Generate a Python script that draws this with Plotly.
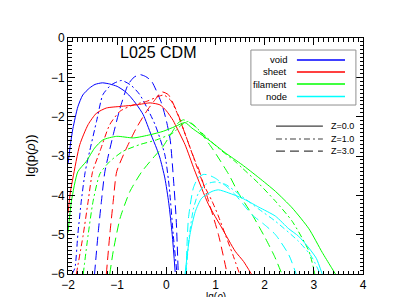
import plotly.graph_objects as go

# ---------------- data ----------------
void_z0_x = [-2.0, -1.95, -1.9, -1.8, -1.7, -1.56, -1.45, -1.3, -1.15, -1.0, -0.85, -0.74, -0.6, -0.47, -0.31, -0.2, -0.13, -0.03, 0.05, 0.12, 0.18]
void_z0_y = [-3.2, -2.7, -2.3, -1.75, -1.45, -1.27, -1.18, -1.14, -1.17, -1.23, -1.35, -1.48, -1.7, -1.95, -2.46, -2.8, -3.05, -3.56, -4.2, -5.0, -5.95]
void_z1_x = [-1.92, -1.86, -1.8, -1.73, -1.65, -1.56, -1.42, -1.29, -1.12, -0.91, -0.72, -0.54, -0.23, -0.03, 0.06, 0.14, 0.21]
void_z1_y = [-6.0, -5.85, -5.0, -4.15, -3.4, -2.88, -2.12, -1.44, -1.19, -1.08, -1.2, -1.44, -2.2, -2.97, -3.8, -5.0, -5.9]
void_z3_x = [-1.46, -1.39, -1.32, -1.25, -1.08, -0.94, -0.78, -0.66, -0.54, -0.42, -0.3, -0.1, 0.0, 0.08, 0.14, 0.2, 0.24]
void_z3_y = [-6.0, -5.0, -4.15, -3.4, -2.46, -1.78, -1.19, -1.0, -0.93, -0.98, -1.1, -1.65, -2.1, -2.6, -3.5, -4.6, -5.9]

sheet_z0_x = [-2.0, -1.95, -1.9, -1.76, -1.59, -1.42, -1.22, -0.94, -0.61, -0.33, -0.13, 0.0, 0.14, 0.18, 0.38, 0.57, 0.86, 1.13, 1.4, 1.57, 1.73]
sheet_z0_y = [-4.45, -3.9, -3.56, -2.71, -2.2, -1.91, -1.78, -1.74, -1.70, -1.65, -1.70, -1.85, -2.1, -2.2, -2.71, -3.35, -4.24, -4.83, -5.42, -5.68, -6.0]
sheet_z1_x = [-1.83, -1.69, -1.59, -1.5, -1.35, -1.15, -0.94, -0.67, -0.4, -0.15, -0.05, 0.1, 0.25, 0.4, 0.6, 0.75, 0.93, 1.05, 1.2, 1.35, 1.49]
sheet_z1_y = [-6.0, -5.0, -4.15, -3.4, -2.88, -2.2, -1.86, -1.70, -1.61, -1.48, -1.45, -1.6, -2.0, -2.5, -3.2, -3.7, -4.15, -4.5, -5.0, -5.5, -6.0]
sheet_z3_x = [-1.22, -1.15, -1.08, -1.01, -0.84, -0.61, -0.4, -0.23, -0.1, 0.04, 0.24, 0.41, 0.59, 0.65, 0.86, 1.06, 1.23]
sheet_z3_y = [-6.0, -5.0, -4.15, -3.4, -2.88, -2.29, -1.86, -1.57, -1.37, -1.44, -1.95, -2.54, -3.14, -3.3, -4.15, -5.0, -5.95]

fil_z0_x = [-2.0, -1.93, -1.8, -1.63, -1.46, -1.29, -1.01, -0.67, -0.33, -0.06, 0.18, 0.38, 0.52, 0.86, 1.2, 1.54, 1.88, 2.22, 2.56, 2.9, 3.17, 3.34, 3.44]
fil_z0_y = [-4.95, -4.15, -3.4, -3.14, -2.80, -2.59, -2.50, -2.54, -2.46, -2.37, -2.25, -2.15, -2.29, -2.59, -2.92, -3.22, -3.55, -3.9, -4.32, -4.85, -5.45, -5.8, -6.0]
fil_z1_x = [-1.69, -1.59, -1.49, -1.35, -1.15, -0.88, -0.54, -0.2, 0.14, 0.3, 0.45, 0.72, 1.06, 1.4, 1.54, 1.88, 2.22, 2.56, 2.9, 3.02]
fil_z1_y = [-6.0, -5.0, -4.15, -3.45, -3.14, -2.88, -2.71, -2.59, -2.41, -2.22, -2.12, -2.41, -2.80, -3.14, -3.3, -3.7, -4.15, -4.66, -5.42, -6.0]
fil_z3_x = [-1.15, -1.08, -0.94, -0.74, -0.5, -0.27, -0.08, 0.11, 0.24, 0.35, 0.59, 0.93, 1.27, 1.47, 1.75, 2.01, 2.2, 2.35]
fil_z3_y = [-6.0, -5.42, -4.58, -3.90, -3.4, -3.05, -2.78, -2.41, -2.16, -2.08, -2.25, -2.80, -3.47, -3.95, -4.5, -5.08, -5.55, -6.0]

node_z0_x = [0.38, 0.48, 0.59, 0.72, 0.93, 1.06, 1.27, 1.54, 1.88, 2.22, 2.49, 2.69, 2.9, 3.05, 3.17]
node_z0_y = [-6.0, -5.0, -4.41, -4.07, -3.90, -3.86, -3.94, -4.07, -4.3, -4.53, -4.85, -5.04, -5.34, -5.6, -6.0]
node_z1_x = [0.4, 0.47, 0.55, 0.65, 0.8, 0.99, 1.2, 1.54, 1.88, 2.22, 2.69, 2.95, 3.13]
node_z1_y = [-6.0, -5.0, -4.35, -3.95, -3.72, -3.66, -3.72, -4.03, -4.35, -4.66, -5.17, -5.55, -6.0]
node_z3_x = [0.4, 0.45, 0.55, 0.65, 0.75, 0.85, 0.99, 1.2, 1.4, 1.74, 2.0, 2.22, 2.49, 2.64]
node_z3_y = [-6.0, -4.58, -3.81, -3.55, -3.47, -3.48, -3.56, -3.75, -3.98, -4.49, -4.75, -5.0, -5.51, -6.0]

category_names = ["void", "sheet", "filament", "node"]
category_colors = ["#0000ff", "#ff0000", "#00ff00", "#00ffff"]
redshift_labels = ["Z=0.0", "Z=1.0", "Z=3.0"]
redshift_dashes = ["solid", "6px,3px,2px,3px", "9px,5px"]

series = {
    "void": [(void_z0_x, void_z0_y), (void_z1_x, void_z1_y), (void_z3_x, void_z3_y)],
    "sheet": [(sheet_z0_x, sheet_z0_y), (sheet_z1_x, sheet_z1_y), (sheet_z3_x, sheet_z3_y)],
    "filament": [(fil_z0_x, fil_z0_y), (fil_z1_x, fil_z1_y), (fil_z3_x, fil_z3_y)],
    "node": [(node_z0_x, node_z0_y), (node_z1_x, node_z1_y), (node_z3_x, node_z3_y)],
}

x_ticks = [-2, -1, 0, 1, 2, 3, 4]
y_ticks = [0, -1, -2, -3, -4, -5, -6]

FONT = "Liberation Sans, Arial, sans-serif"

fig = go.Figure()
for name, color in zip(category_names, category_colors):
    for (xs, ys), dash in zip(series[name], redshift_dashes):
        fig.add_trace(go.Scatter(x=xs, y=ys, mode="lines",
                                 line=dict(color=color, width=1, dash=dash, shape="spline", smoothing=0.6),
                                 showlegend=False, hoverinfo="skip"))

axis_common = dict(showgrid=False, zeroline=False, showline=True, linecolor="black", linewidth=1,
                   mirror="allticks", ticks="inside", ticklen=7, tickcolor="black", tickwidth=1,
                   tickfont=dict(family=FONT, size=12, color="black"))

fig.update_xaxes(range=[-2, 4], tickvals=x_ticks, ticktext=[str(v).replace("-", "\u2212") for v in x_ticks],
                 minor=dict(ticks="inside", ticklen=3.5, dtick=0.1, tickcolor="black", showgrid=False),
                 **axis_common)
fig.update_yaxes(range=[-6, 0], tickvals=y_ticks, ticktext=[str(v).replace("-", "\u2212") for v in y_ticks],
                 minor=dict(ticks="inside", ticklen=3.5, dtick=0.1, tickcolor="black", showgrid=False),
                 **axis_common)

shapes = []
annotations = []

# title inside plot
annotations.append(dict(text="L025 CDM", x=0.17, y=0.938, xref="paper", yref="paper",
                        xanchor="left", yanchor="middle", showarrow=False,
                        font=dict(family=FONT, size=16, color="black")))

# axis titles
annotations.append(dict(text="lg(p(<i>ρ</i>))", x=-0.13, y=0.5, xref="paper", yref="paper",
                        textangle=-90, showarrow=False, xanchor="center", yanchor="middle",
                        font=dict(family=FONT, size=13, color="black")))
annotations.append(dict(text="lg(<i>ρ</i>)", x=0.5, y=-0.122, xref="paper", yref="paper",
                        showarrow=False, xanchor="center", yanchor="bottom", borderpad=0,
                        font=dict(family=FONT, size=10, color="black")))

# category legend box
shapes.append(dict(type="rect", xref="paper", yref="paper", x0=0.620, x1=0.976, y0=0.716, y1=0.949,
                   line=dict(color="#909090", width=1), fillcolor="white", layer="above"))
leg_y = [0.907, 0.856, 0.805, 0.752]
for name, color, yy in zip(category_names, category_colors, leg_y):
    annotations.append(dict(text=name, x=0.749, y=yy, xref="paper", yref="paper", xanchor="right",
                            yanchor="middle", showarrow=False, font=dict(family=FONT, size=9.5, color="black")))
    shapes.append(dict(type="line", xref="paper", yref="paper", x0=0.776, x1=0.939, y0=yy, y1=yy,
                       line=dict(color=color, width=1.5), layer="above"))

# redshift legend
z_y = [0.627, 0.572, 0.521]
for lab, dash, yy in zip(redshift_labels, redshift_dashes, z_y):
    shapes.append(dict(type="line", xref="paper", yref="paper", x0=0.705, x1=0.864, y0=yy, y1=yy,
                       line=dict(color="#404040", width=1.2, dash=dash), layer="above"))
    annotations.append(dict(text=lab, x=0.885, y=yy, xref="paper", yref="paper", xanchor="left",
                            yanchor="middle", showarrow=False, font=dict(family=FONT, size=9, color="black")))

fig.update_layout(width=415, height=297, margin=dict(l=60, r=60, t=30, b=31),
                  paper_bgcolor="white", plot_bgcolor="white", showlegend=False,
                  shapes=shapes, annotations=annotations)

fig.write_html("out.html")
